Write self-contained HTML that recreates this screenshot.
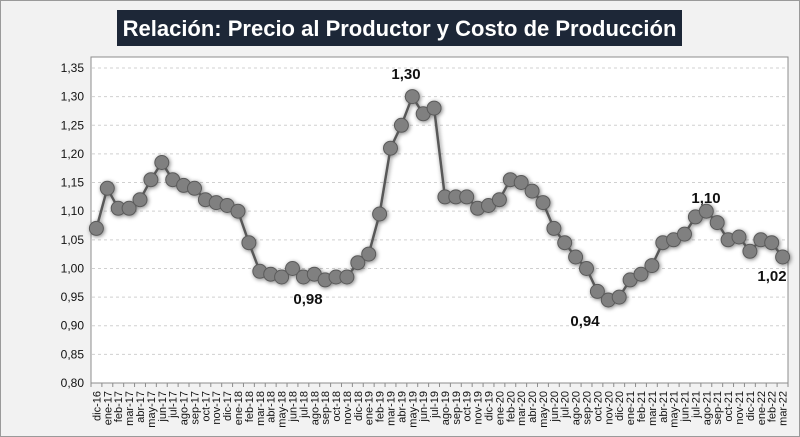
<!DOCTYPE html>
<html><head><meta charset="utf-8"><style>
body{margin:0;background:#fff;}
svg{display:block;font-family:"Liberation Sans",sans-serif;}
</style></head><body>
<svg id="s" width="800" height="437" xmlns="http://www.w3.org/2000/svg">
<defs><filter id="sh" x="-50%" y="-50%" width="200%" height="200%"><feGaussianBlur in="SourceAlpha" stdDeviation="2"/><feOffset dx="1" dy="1"/><feComponentTransfer><feFuncA type="linear" slope="0.5"/></feComponentTransfer><feMerge><feMergeNode/><feMergeNode in="SourceGraphic"/></feMerge></filter></defs>
<rect x="0.5" y="0.5" width="799" height="436" fill="#f2f2f2" stroke="#9a9a9a"/>
<rect x="91" y="57" width="697" height="326" fill="#fff" stroke="#8c8c8c"/>
<rect x="117" y="10" width="565" height="36" fill="#1d2737"/>
<text x="399.5" y="36" text-anchor="middle" fill="#fff" font-size="22" font-weight="bold">Relación: Precio al Productor y Costo de Producción</text>
<g id="g"></g>
</svg>
<script>
var v=[1.07,1.14,1.105,1.105,1.12,1.155,1.185,1.155,1.145,1.14,1.12,1.115,1.11,1.10,1.045,0.995,0.99,0.985,1.00,0.985,0.99,0.98,0.985,0.985,1.01,1.025,1.095,1.21,1.25,1.30,1.27,1.28,1.125,1.125,1.125,1.105,1.11,1.12,1.155,1.15,1.135,1.115,1.07,1.045,1.02,1.00,0.96,0.945,0.95,0.98,0.99,1.005,1.045,1.05,1.06,1.09,1.10,1.08,1.05,1.055,1.03,1.05,1.045,1.02];
var m=["ene","feb","mar","abr","may","jun","jul","ago","sep","oct","nov","dic"];
var labs=["dic-16"];for(var y=17;y<=22;y++)for(var i=0;i<12;i++){if(y==22&&i>2)break;labs.push(m[i]+"-"+y);}
var L=91,W=697,B=383,T=68;function Y(val){return T+(1.35-val)/0.55*(B-T);}
var cw=W/64,h="";
for(var k=0;k<=11;k++){var val=0.80+k*0.05,yy=Y(val);
 if(k>0)h+='<line x1="92" x2="787" y1="'+yy+'" y2="'+yy+'" stroke="#d0d0d0" stroke-dasharray="3,3"/>';
 h+='<text x="84" y="'+(yy+4)+'" text-anchor="end" font-size="12" fill="#111">'+val.toFixed(2).replace(".",",")+'</text>';}
for(var i=0;i<=64;i++){var xx=L+i*cw;h+='<line x1="'+xx+'" x2="'+xx+'" y1="383" y2="387" stroke="#8c8c8c"/>';}
var pts=[];for(var i=0;i<64;i++){var xx=L+cw/2+i*cw;pts.push(xx.toFixed(1)+","+Y(v[i]).toFixed(1));
 h+='<text transform="translate('+(xx+4)+',391) rotate(-90)" text-anchor="end" font-size="11" fill="#111">'+labs[i]+'</text>';}
h+='<g filter="url(#sh)"><polyline points="'+pts.join(" ")+'" fill="none" stroke="#595959" stroke-width="2.5"/>';
for(var i=0;i<64;i++){var p=pts[i].split(",");h+='<circle cx="'+p[0]+'" cy="'+p[1]+'" r="7" fill="#808080" stroke="#5a5a5a" stroke-width="1"/>';}
h+='</g>';
var an=[[406,79,"1,30"],[308,304,"0,98"],[585,326,"0,94"],[706,203,"1,10"],[772,281,"1,02"]];
an.forEach(function(a){h+='<text x="'+a[0]+'" y="'+a[1]+'" text-anchor="middle" font-size="15" font-weight="bold" fill="#111">'+a[2]+'</text>';});
document.getElementById("g").innerHTML=h;
</script>
</body></html>
